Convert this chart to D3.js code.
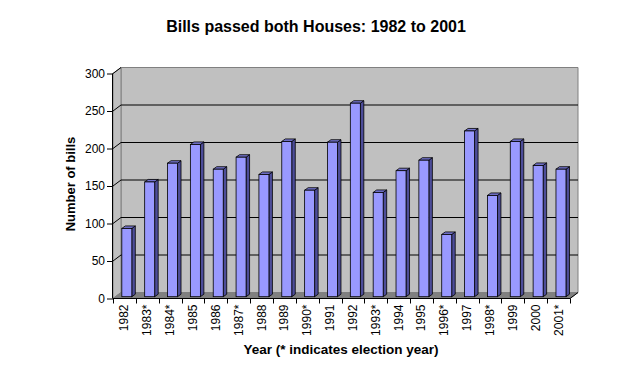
<!DOCTYPE html>
<html>
<head>
<meta charset="utf-8">
<script src="https://cdn.jsdelivr.net/npm/d3@7"></script>
<style>
  body { margin: 0; background: #fff; }
  text { font-family: "Liberation Sans", Arial, sans-serif; }
</style>
</head>
<body>
<div id="chart"></div>
<script>
const years = ['1982', '1983*', '1984*', '1985', '1986', '1987*', '1988', '1989', '1990*', '1991',
               '1992', '1993*', '1994', '1995', '1996*', '1997', '1998*', '1999', '2000', '2001*'];
const bills = [91, 153, 178, 203, 170, 186, 163, 207, 142, 206,
               258, 139, 168, 182, 83, 221, 135, 207, 175, 170];
const yTicks = [0, 50, 100, 150, 200, 250, 300];

function drawBillsChart() {
    const width = 634, height = 377;
    const left = 113, right = 570, top = 73.5, bottom = 298.5;
    // depth of the 3D box
    const dx = 8, dy = -6;

    const x = d3.scaleBand().domain(years).range([left, right]);
    const y = d3.scaleLinear().domain([0, 300]).range([bottom, top]);

    const svg = d3.select('#chart').append('svg')
      .attr('width', width)
      .attr('height', height);

    const pts = p => p.map(q => q.join(',')).join(' ');

    // back wall
    svg.append('polygon')
      .attr('points', pts([[left + dx, top + dy], [right + dx, top + dy], [right + dx, bottom + dy], [left + dx, bottom + dy]]))
      .attr('fill', '#c0c0c0')
      .attr('stroke', '#808080');

    // left wall
    svg.append('polygon')
      .attr('points', pts([[left, top], [left + dx, top + dy], [left + dx, bottom + dy], [left, bottom]]))
      .attr('fill', '#c0c0c0')
      .attr('stroke', '#808080');

    // floor
    svg.append('polygon')
      .attr('points', pts([[left, bottom], [left + dx, bottom + dy], [right + dx, bottom + dy], [right, bottom]]))
      .attr('fill', '#808080')
      .attr('stroke', '#808080');

    // gridlines
    yTicks.filter(t => t > 0).forEach(t => {
      const yy = y(t);
      svg.append('polyline')
        .attr('points', pts([[left, yy], [left + dx, yy + dy]].concat(t < 300 ? [[right + dx, yy + dy]] : [])))
        .attr('fill', 'none')
        .attr('stroke', '#000');
    });

    // y axis
    svg.append('g')
      .attr('transform', `translate(${left},0)`)
      .call(d3.axisLeft(y).tickValues(yTicks).tickSize(6).tickPadding(2))
      .call(g => g.selectAll('text').attr('font-size', 12).attr('fill', '#000'))
      .call(g => g.select('.domain').attr('d', `M-0.5,${top}V${bottom}`));

    // x axis
    const xAxis = svg.append('g')
      .attr('transform', `translate(0,${bottom})`);
    xAxis.append('line')
      .attr('x1', left).attr('x2', right)
      .attr('stroke', '#000');
    xAxis.append('line')
      .attr('x1', right).attr('y1', 0)
      .attr('x2', right + dx).attr('y2', dy)
      .attr('stroke', '#000');
    xAxis.selectAll('.tick')
      .data(years.concat(['end']))
      .join('line')
      .attr('x1', (d, i) => Math.round(left + i * x.step()) + 0.5)
      .attr('x2', (d, i) => Math.round(left + i * x.step()) + 0.5)
      .attr('y1', 0).attr('y2', 5)
      .attr('stroke', '#000');
    xAxis.selectAll('.lab')
      .data(years)
      .join('text')
      .attr('transform', d => `translate(${x(d) + x.bandwidth() / 2 + 4},6) rotate(-90)`)
      .attr('text-anchor', 'end')
      .attr('font-size', 12)
      .text(d => d);

    // bars
    const bw = 10, f = 0.3, bdx = 3.5, bdy = -2.5;
    const bars = svg.append('g').selectAll('g')
      .data(years.map((yr, i) => ({ yr, v: bills[i] })))
      .join('g');

    bars.each(function (d) {
      const g = d3.select(this);
      const x0 = x(d.yr) + x.bandwidth() / 2 - bw / 2 + dx * f;
      const x1 = x0 + bw;
      const yb = y(0) + dy * f;
      const yt = y(d.v) + dy * f;
      g.append('polygon')
        .attr('points', pts([[x1, yt], [x1 + bdx, yt + bdy], [x1 + bdx, yb + bdy], [x1, yb]]))
        .attr('fill', '#4d4d99').attr('stroke', '#000').attr('stroke-width', 0.8);
      g.append('polygon')
        .attr('points', pts([[x0, yt], [x0 + bdx, yt + bdy], [x1 + bdx, yt + bdy], [x1, yt]]))
        .attr('fill', '#7373cc').attr('stroke', '#000').attr('stroke-width', 0.8);
      g.append('rect')
        .attr('x', x0).attr('y', yt)
        .attr('width', bw).attr('height', yb - yt)
        .attr('fill', '#9999ff').attr('stroke', '#000').attr('stroke-width', 0.8);
    });

    // titles
    svg.append('text')
      .attr('x', 316).attr('y', 32)
      .attr('text-anchor', 'middle')
      .attr('font-size', 16)
      .attr('font-weight', 'bold')
      .text('Bills passed both Houses: 1982 to 2001');

    svg.append('text')
      .attr('x', 341).attr('y', 354)
      .attr('text-anchor', 'middle')
      .attr('font-size', 13.5)
      .attr('font-weight', 'bold')
      .text('Year (* indicates election year)');

    svg.append('text')
      .attr('transform', 'translate(75,184) rotate(-90)')
      .attr('text-anchor', 'middle')
      .attr('font-size', 13)
      .attr('font-weight', 'bold')
      .text('Number of bills');
}

drawBillsChart();
</script>
</body>
</html>
